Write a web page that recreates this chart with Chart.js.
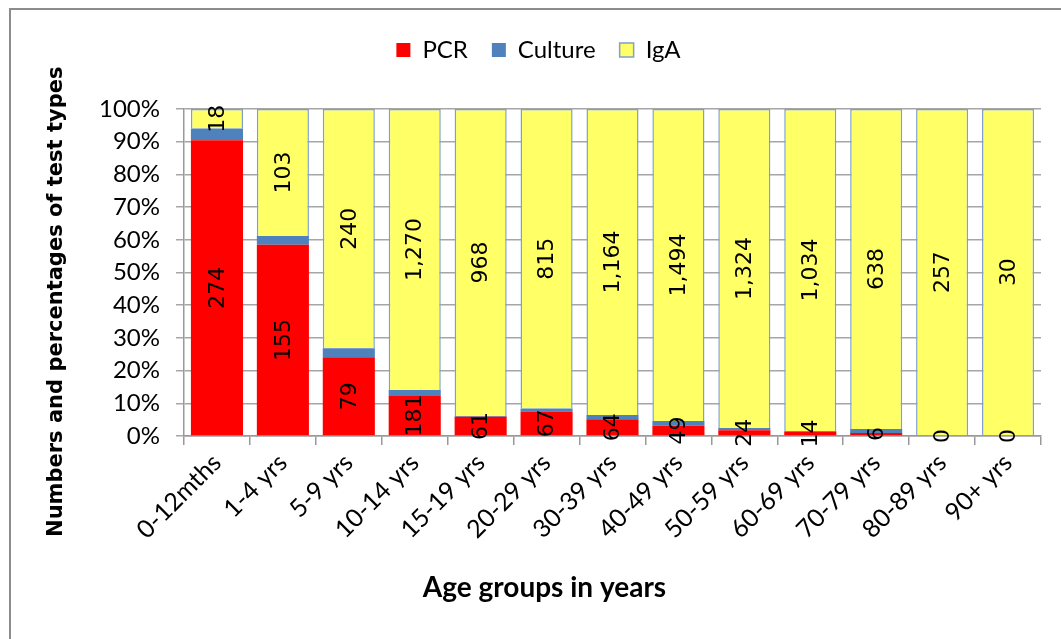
<!DOCTYPE html>
<html lang="en">
<head>
  <meta charset="UTF-8">
  <title>Test types by age group</title>
  <script src="https://cdn.jsdelivr.net/npm/chart.js"></script>
  <style>
    body { margin: 0; background: #fff; }
    .frame { position: absolute; left: 9px; top: 8px; width: 1100px; height: 700px; border: 2px solid #8c8c8c; }
    #chart { position: absolute; left: 0; top: 0; }
  </style>
</head>
<body>
  <div class="frame"></div>
  <canvas id="chart" width="1061" height="639"></canvas>

  <script>
    // counts per age group
    const ageGroups = ['0-12mths', '1-4 yrs', '5-9 yrs', '10-14 yrs', '15-19 yrs', '20-29 yrs', '30-39 yrs',
      '40-49 yrs', '50-59 yrs', '60-69 yrs', '70-79 yrs', '80-89 yrs', '90+ yrs'];
    const pcr = [274, 155, 79, 181, 61, 67, 64, 49, 24, 14, 6, 0, 0];
    const culture = [11, 7, 9, 27, 2, 8, 16, 23, 9, 2, 8, 0, 0];   // not labelled, estimated
    const iga = [18, 103, 240, 1270, 968, 815, 1164, 1494, 1324, 1034, 638, 257, 30];
    const yTicks = [0, 10, 20, 30, 40, 50, 60, 70, 80, 90, 100];

    const totals = ageGroups.map((_, i) => pcr[i] + culture[i] + iga[i]);
    const pct = arr => arr.map((v, i) => totals[i] ? v / totals[i] * 100 : 0);

    // numbers written inside the PCR and IgA segments
    const countLabels = {
      id: 'countLabels',
      afterDatasetsDraw(chart) {
        const ctx = chart.ctx;
        ctx.save();
        ctx.font = '22px "DejaVu Sans"';
        ctx.fillStyle = '#000';
        ctx.textAlign = 'center';
        ctx.textBaseline = 'middle';
        [0, 2].forEach(di => {
          const ds = chart.data.datasets[di];
          chart.getDatasetMeta(di).data.forEach((bar, i) => {
            const y = (bar.y + bar.base) / 2;
            ctx.save();
            ctx.translate(bar.x, y);
            ctx.rotate(-Math.PI / 2);
            ctx.fillText(ds.counts[i].toLocaleString('en-US'), 0, 1);
            ctx.restore();
          });
        });
        ctx.restore();
      }
    };

    // extra room between legend and plot
    const legendGap = {
      id: 'legendGap',
      beforeInit(chart) {
        const fit = chart.legend.fit;
        chart.legend.fit = function () {
          fit.call(this);
          this.height += 37;
        };
      }
    };

    new Chart(document.getElementById('chart'), {
      type: 'bar',
      data: {
        labels: ageGroups,
        datasets: [
          { label: 'PCR', data: pct(pcr), counts: pcr, backgroundColor: '#ff0000', borderWidth: 0 },
          { label: 'Culture', data: pct(culture), counts: culture, backgroundColor: '#4f81bd', borderWidth: 0 },
          { label: 'IgA', data: pct(iga), counts: iga, backgroundColor: '#ffff66', borderColor: '#7f9fd0', borderWidth: 1.5 }
        ]
      },
      options: {
        responsive: false,
        animation: false,
        barPercentage: 0.79,
        categoryPercentage: 1,
        layout: { padding: { top: 14, left: 36, right: 20, bottom: 20 } },
        plugins: {
          legend: {
            labels: {
              boxWidth: 14, boxHeight: 14, padding: 24, color: '#000',
              font: { family: 'Lato', size: 24 }
            }
          },
          tooltip: { enabled: false }
        },
        scales: {
          x: {
            stacked: true,
            afterFit(scale) { scale.height = 183; },
            grid: { drawOnChartArea: false, tickLength: 9, color: '#999', lineWidth: 1.5 },
            border: { color: '#999', width: 1.5 },
            ticks: { color: '#000', maxRotation: 45, minRotation: 45, font: { family: 'Lato', size: 25 } },
            title: { display: true, text: 'Age groups in years' + ' '.repeat(20), color: '#000', padding: { top: 0, bottom: 14 },
              font: { family: 'Lato', size: 28, weight: 'bold' } }
          },
          y: {
            stacked: true,
            min: 0,
            max: 100,
            afterFit(scale) { scale.width = 148; },
            afterBuildTicks(scale) { scale.ticks = yTicks.map(v => ({ value: v })); },
            grid: { color: '#a6a6a6', lineWidth: 1.5, tickLength: 8 },
            border: { color: '#999', width: 1.5 },
            ticks: { color: '#000', padding: 16, callback: v => v + '%', font: { family: 'Lato', size: 24 } },
            title: { display: true, text: 'Numbers and percentages of test types' + ' '.repeat(8), color: '#000', padding: { top: 8, bottom: 0 },
              font: { family: 'DejaVu Sans', size: 21, weight: 'bold' } }
          }
        }
      },
      plugins: [countLabels, legendGap]
    });
  </script>
</body>
</html>
